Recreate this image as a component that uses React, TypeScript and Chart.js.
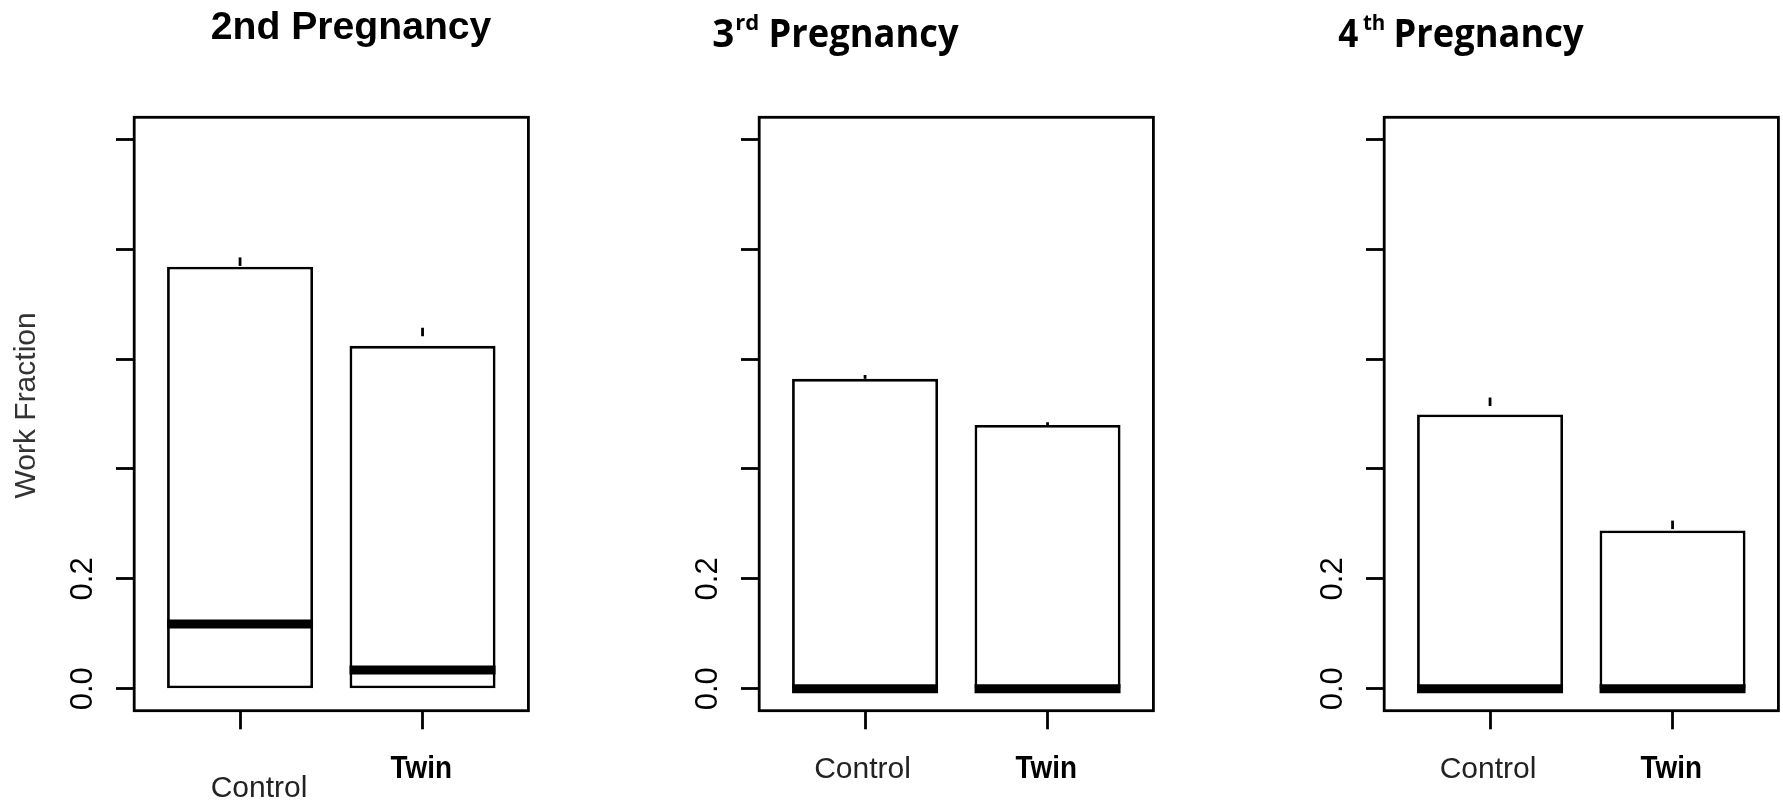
import React, { useEffect, useRef } from "react";
import { Chart, registerables } from "chart.js";

Chart.register(...registerables);

// ---------------- data ----------------
const groups = ["Control", "Twin"];
const groupPositions = [1, 2];
const yTickValues = [0, 0.2, 0.4, 0.6, 0.8, 1.0];
const yTickLabels = ["0.0", "0.2", "", "", "", ""];
const yAxisTitle = "Work Fraction";

const pregnancyNumbers = ["2", "3", "4"];
const pregnancySuffixes = ["nd", "rd", "th"];
const pregnancyWord = "Pregnancy";

// 2nd pregnancy
const lowerQuartile2nd = [0, 0];
const median2nd = [0.118, 0.034];
const upperQuartile2nd = [0.768, 0.624];
const upperWhisker2nd = [0.785, 0.657];

// 3rd pregnancy
const lowerQuartile3rd = [0, 0];
const median3rd = [0, 0];
const upperQuartile3rd = [0.564, 0.48];
const upperWhisker3rd = [0.571, 0.485];

// 4th pregnancy
const lowerQuartile4th = [0, 0];
const median4th = [0, 0];
const upperQuartile4th = [0.499, 0.288];
const upperWhisker4th = [0.53, 0.306];

// ---------------- layout / style ----------------
const CANVAS_W = 533;
const CANVAS_H = 802;
const PANEL_LEFT = [0, 625, 1250];
const LINE_W = 2.8;

const panels = [
  { q1: lowerQuartile2nd, med: median2nd, q3: upperQuartile2nd, hi: upperWhisker2nd, titleStyle: "plain", controlDx: 19, controlBaseline: 796.5, showYTitle: true },
  { q1: lowerQuartile3rd, med: median3rd, q3: upperQuartile3rd, hi: upperWhisker3rd, titleStyle: "super", controlDx: -2.5, controlBaseline: 778, showYTitle: false },
  { q1: lowerQuartile4th, med: median4th, q3: upperQuartile4th, hi: upperWhisker4th, titleStyle: "super", controlDx: -2, controlBaseline: 778, showYTitle: false },
];

const ARIAL = '"Liberation Sans", Arial, Helvetica, sans-serif';
const CALIBRI = '"Open Sans", "Noto Sans", sans-serif';

function drawFitted(ctx: CanvasRenderingContext2D, text: string, font: string, inkLeft: number, inkWidth: number, baseline: number, color: string) {
  ctx.save();
  ctx.font = font;
  ctx.textAlign = "left";
  ctx.textBaseline = "alphabetic";
  ctx.fillStyle = color;
  const m = ctx.measureText(text);
  const w = (m.actualBoundingBoxLeft || 0) + (m.actualBoundingBoxRight || m.width);
  const sx = w > 0 ? inkWidth / w : 1;
  const x0 = inkLeft + (m.actualBoundingBoxLeft || 0) * sx;
  ctx.translate(x0, baseline);
  ctx.scale(sx, 1);
  ctx.fillText(text, 0, 0);
  ctx.restore();
}

function makeDecoPlugin(index: number) {
  const p = panels[index];
  return {
    id: "boxDeco" + index,
    afterDatasetsDraw(chart: any) {
      const ctx: CanvasRenderingContext2D = chart.ctx;
      const yScale = chart.scales.y;
      const meta = chart.getDatasetMeta(0);
      ctx.save();
      ctx.strokeStyle = "#000";
      meta.data.forEach((el: any, i: number) => {
        const { x, width } = el.getProps(["x", "width"], true);
        // whisker (dashed, drawn from whisker end toward the box)
        const yh = yScale.getPixelForValue(p.hi[i]);
        const yq = yScale.getPixelForValue(p.q3[i]);
        ctx.lineWidth = LINE_W;
        ctx.lineCap = "butt";
        ctx.setLineDash([8.5, 9.5]);
        ctx.beginPath();
        ctx.moveTo(x, yh);
        ctx.lineTo(x, yq);
        ctx.stroke();
        // median
        ctx.setLineDash([]);
        const ym = yScale.getPixelForValue(p.med[i]);
        ctx.lineWidth = 9;
        ctx.beginPath();
        ctx.moveTo(x - width / 2, ym);
        ctx.lineTo(x + width / 2, ym);
        ctx.stroke();
      });
      ctx.restore();
    },
    afterDraw(chart: any) {
      const ctx: CanvasRenderingContext2D = chart.ctx;
      const { left, top, right, bottom } = chart.chartArea;
      const yScale = chart.scales.y;
      const xScale = chart.scales.x;
      ctx.save();
      // frame
      ctx.strokeStyle = "#000";
      ctx.lineWidth = LINE_W;
      ctx.setLineDash([]);
      ctx.strokeRect(left, top, right - left, bottom - top);

      // y tick labels (rotated)
      ctx.font = "31px " + ARIAL;
      ctx.fillStyle = "#000";
      ctx.textAlign = "center";
      ctx.textBaseline = "alphabetic";
      yTickValues.forEach((v, i) => {
        if (!yTickLabels[i]) return;
        const py = yScale.getPixelForValue(v);
        ctx.save();
        ctx.translate(left - 42.5, py);
        ctx.rotate(-Math.PI / 2);
        ctx.fillText(yTickLabels[i], 0, 0);
        ctx.restore();
      });

      // y axis title
      if (p.showYTitle) {
        ctx.save();
        ctx.font = "30px " + ARIAL;
        ctx.fillStyle = "#333";
        ctx.translate(35, 405.4);
        ctx.rotate(-Math.PI / 2);
        ctx.fillText(yAxisTitle, 0, 0);
        ctx.restore();
      }

      // x category labels
      groups.forEach((g, i) => {
        const px = xScale.getPixelForValue(groupPositions[i]);
        if (i === 0) {
          ctx.save();
          ctx.font = "30px " + ARIAL;
          ctx.fillStyle = "#222";
          ctx.textAlign = "center";
          ctx.fillText(g, px + p.controlDx, p.controlBaseline);
          ctx.restore();
        } else {
          drawFitted(ctx, g, "bold 32px " + ARIAL, px - 2 - 30, 60, 778.3, "#000");
        }
      });

      // title
      const num = pregnancyNumbers[index];
      const suf = pregnancySuffixes[index];
      if (p.titleStyle === "plain") {
        drawFitted(ctx, num + suf + " " + pregnancyWord, "bold 39px " + ARIAL, 211.7, 280, 38.5, "#000");
      } else {
        drawFitted(ctx, num, "bold 39px " + CALIBRI, 88.3, 19.8, 46.7, "#000");
        drawFitted(ctx, suf, "bold 21px " + CALIBRI, index === 1 ? 111.3 : 112.9, 21.6, 30, "#000");
        drawFitted(ctx, pregnancyWord, "bold 39px " + CALIBRI, 146.3, 188, 46.7, "#000");
      }
      ctx.restore();
    },
  };
}

function Panel({ index }: { index: number }) {
  const ref = useRef<HTMLCanvasElement>(null);
  useEffect(() => {
    const p = panels[index];
    const chart = new Chart(ref.current as HTMLCanvasElement, {
      type: "bar",
      data: {
        datasets: [
          {
            data: groupPositions.map((gx, i) => ({ x: gx, y: [p.q1[i], p.q3[i]] })) as any,
            backgroundColor: "#fff",
            borderColor: "#000",
            borderWidth: LINE_W,
            borderSkipped: false,
            barPercentage: 1,
            categoryPercentage: 0.8,
          },
        ],
      },
      options: {
        animation: false,
        responsive: false,
        maintainAspectRatio: false,
        layout: { padding: { left: 0, top: 117.3, right: CANVAS_W - 528.4, bottom: CANVAS_H - 729.3 } },
        scales: {
          x: {
            type: "linear",
            min: 0.42,
            max: 2.58,
            offset: false,
            afterBuildTicks: (s: any) => {
              s.ticks = groupPositions.map((v) => ({ value: v }));
            },
            ticks: { display: false },
            grid: { display: true, offset: false, drawOnChartArea: false, drawTicks: true, tickLength: 18.6, tickWidth: LINE_W, tickColor: "#000" },
            border: { display: false },
            afterFit: (s: any) => {
              s.height = 18.6;
            },
          },
          y: {
            type: "linear",
            min: -0.04,
            max: 1.04,
            afterBuildTicks: (s: any) => {
              s.ticks = yTickValues.map((v) => ({ value: v }));
            },
            ticks: { display: false },
            grid: { display: true, drawOnChartArea: false, drawTicks: true, tickLength: 18.2, tickWidth: LINE_W, tickColor: "#000" },
            border: { display: false },
            afterFit: (s: any) => {
              s.width = 134.2;
            },
          },
        },
        plugins: { legend: { display: false }, tooltip: { enabled: false }, title: { display: false } },
      } as any,
      plugins: [makeDecoPlugin(index) as any],
    });
    return () => chart.destroy();
  }, [index]);
  return (
    <canvas
      ref={ref}
      width={CANVAS_W}
      height={CANVAS_H}
      style={{ position: "absolute", left: PANEL_LEFT[index], top: 0, width: CANVAS_W, height: CANVAS_H }}
    />
  );
}

export default function App() {
  return (
    <div style={{ position: "fixed", left: 0, top: 0, width: 1783, height: 802, overflow: "hidden", background: "#fff" }}>
      {panels.map((_, i) => (
        <Panel key={i} index={i} />
      ))}
    </div>
  );
}
